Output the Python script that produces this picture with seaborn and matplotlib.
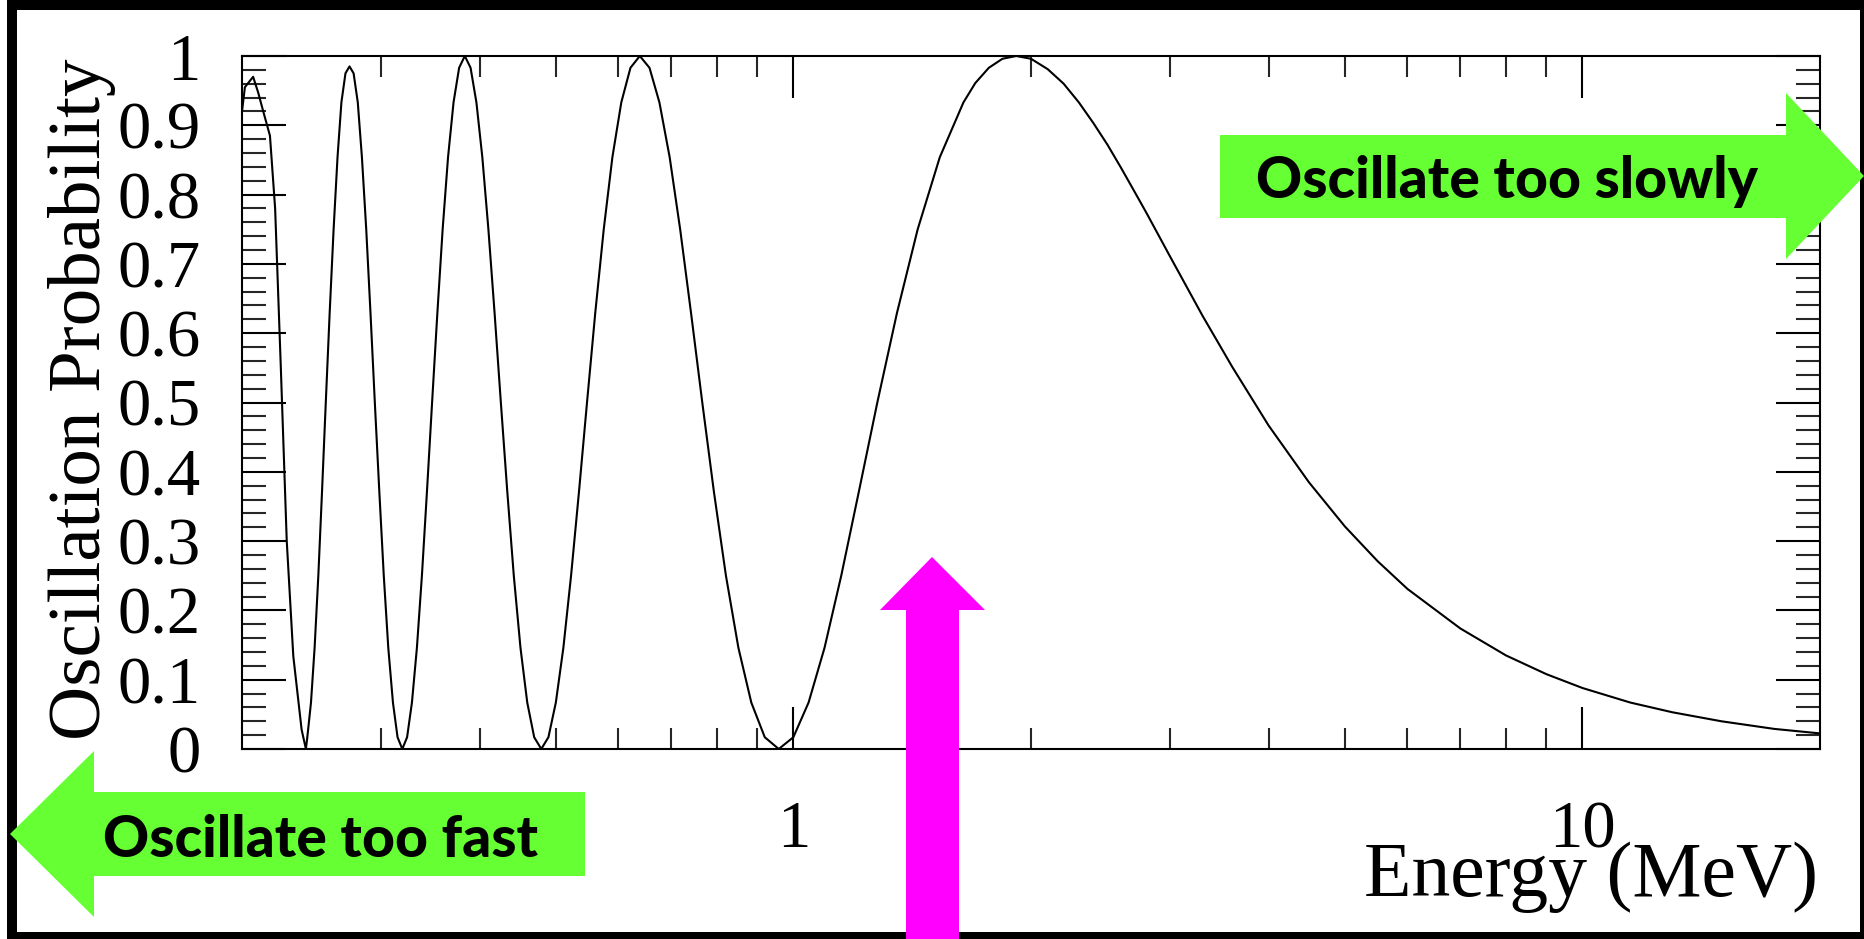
import matplotlib
matplotlib.use("Agg")
import matplotlib.pyplot as plt
from matplotlib.patches import Polygon, Rectangle
from matplotlib.ticker import FixedLocator, FixedFormatter, NullFormatter, MultipleLocator
import pandas as pd
import seaborn as sns

# ---- curve: neutrino energy (MeV) and oscillation probability ----
energy = [
    0.2000, 0.2017, 0.2066, 0.2097, 0.2128, 0.2170, 0.2203, 0.2240, 0.2279, 0.2323, 0.2380, 0.2410,
    0.2420, 0.2446, 0.2472, 0.2499, 0.2526, 0.2554, 0.2583, 0.2613, 0.2643, 0.2673, 0.2705, 0.2737,
    0.2770, 0.2804, 0.2838, 0.2874, 0.2910, 0.2947, 0.2986, 0.3025, 0.3065, 0.3107, 0.3149, 0.3193,
    0.3238, 0.3284, 0.3332, 0.3381, 0.3431, 0.3483, 0.3537, 0.3592, 0.3649, 0.3708, 0.3769, 0.3832,
    0.3897, 0.3964, 0.4033, 0.4105, 0.4180, 0.4257, 0.4338, 0.4421, 0.4508, 0.4598, 0.4692, 0.4790,
    0.4891, 0.4998, 0.5109, 0.5225, 0.5347, 0.5474, 0.5607, 0.5748, 0.5895, 0.6050, 0.6214, 0.6386,
    0.6569, 0.6762, 0.6967, 0.7184, 0.7416, 0.7663, 0.7928, 0.8211, 0.8515, 0.8842, 0.9196, 0.9579,
    0.9996, 1.0450, 1.0948, 1.1495, 1.2100, 1.2772, 1.3524, 1.4369, 1.5327, 1.6421, 1.7000, 1.7685,
    1.8400, 1.9158, 2.0, 2.1, 2.2, 2.3, 2.4, 2.5, 2.6, 2.7, 2.8, 3.0, 3.3, 3.6, 4.0, 4.5, 5.0,
    5.5, 6.0, 7.0, 8.0, 9.0, 10.0, 11.5, 13.0, 15.0, 17.5, 20.0,
]
probability = [
    0.920, 0.955, 0.970, 0.947, 0.920, 0.885, 0.780, 0.550, 0.300, 0.134, 0.028, 0.000,
    0.017, 0.067, 0.146, 0.250, 0.371, 0.500, 0.629, 0.750, 0.854, 0.933, 0.975, 0.985,
    0.975, 0.933, 0.854, 0.750, 0.629, 0.500, 0.371, 0.250, 0.146, 0.067, 0.017, 0.000,
    0.017, 0.067, 0.146, 0.250, 0.371, 0.500, 0.629, 0.750, 0.854, 0.933, 0.983, 1.000,
    0.983, 0.933, 0.854, 0.750, 0.629, 0.500, 0.371, 0.250, 0.146, 0.067, 0.017, 0.000,
    0.017, 0.067, 0.146, 0.250, 0.371, 0.500, 0.629, 0.750, 0.854, 0.933, 0.983, 1.000,
    0.983, 0.933, 0.854, 0.750, 0.629, 0.500, 0.371, 0.250, 0.146, 0.067, 0.017, 0.000,
    0.017, 0.067, 0.146, 0.250, 0.371, 0.500, 0.629, 0.750, 0.854, 0.933, 0.961, 0.983,
    0.996, 1.000, 0.996, 0.981, 0.960, 0.933, 0.903, 0.872, 0.839, 0.806, 0.774, 0.711,
    0.625, 0.551, 0.467, 0.385, 0.321, 0.271, 0.231, 0.174, 0.135, 0.108, 0.088, 0.067,
    0.053, 0.040, 0.029, 0.0225,
]

# ---- axis ticks and labels ----
x_major = [1, 10]
x_major_labels = ["1", "10"]
x_minor = [0.3, 0.4, 0.5, 0.6, 0.7, 0.8, 0.9, 2, 3, 4, 5, 6, 7, 8, 9]
y_major = [0.0, 0.1, 0.2, 0.3, 0.4, 0.5, 0.6, 0.7, 0.8, 0.9, 1.0]
y_major_labels = ["0", "0.1", "0.2", "0.3", "0.4", "0.5", "0.6", "0.7", "0.8", "0.9", "1"]

x_title = "Energy (MeV)"
y_title = "Oscillation Probability"
slow_text = "Oscillate too slowly"
fast_text = "Oscillate too fast"

sns.set_theme(style="white")
serif = ["Liberation Serif", "DejaVu Serif"]
plt.rcParams["font.family"] = serif

W, H = 1864, 939
fig = plt.figure(figsize=(W / 100, H / 100), dpi=100)
fig.patch.set_facecolor("white")


def fx(px):
    return px / W


def fy(py):
    return 1 - py / H


def poly(points, color, z):
    pts = [(fx(x), fy(y)) for x, y in points]
    fig.patches.append(Polygon(pts, closed=True, transform=fig.transFigure,
                               facecolor=color, edgecolor="none", zorder=z))


def rect(x0, y0, x1, y1, color, z):
    fig.patches.append(Rectangle((fx(x0), fy(y1)), fx(x1) - fx(x0), fy(y0) - fy(y1),
                                 transform=fig.transFigure, facecolor=color,
                                 edgecolor="none", zorder=z))


ax_left, ax_right, ax_top, ax_bottom = 242, 1820, 56, 749
ax = fig.add_axes([fx(ax_left), fy(ax_bottom), fx(ax_right) - fx(ax_left),
                   (ax_bottom - ax_top) / H])
ax.set_facecolor("white")

df = pd.DataFrame({"energy": energy, "probability": probability})
sns.lineplot(data=df, x="energy", y="probability", ax=ax, color="black",
             linewidth=1.5, estimator=None, sort=True)

ax.set_xscale("log")
ax.set_xlim(0.2, 20)
ax.set_ylim(0, 1)
ax.set_xlabel("")
ax.set_ylabel("")

ax.xaxis.set_major_locator(FixedLocator(x_major))
ax.xaxis.set_major_formatter(FixedFormatter(x_major_labels))
ax.xaxis.set_minor_locator(FixedLocator(x_minor))
ax.xaxis.set_minor_formatter(NullFormatter())
ax.yaxis.set_major_locator(FixedLocator(y_major))
ax.yaxis.set_major_formatter(FixedFormatter(y_major_labels))
ax.yaxis.set_minor_locator(MultipleLocator(0.02))
ax.yaxis.set_minor_formatter(NullFormatter())

ax.tick_params(axis="x", which="major", direction="in", length=30, width=1.5,
               top=True, bottom=True, pad=37, labelsize=48, colors="black")
ax.tick_params(axis="x", which="minor", direction="in", length=15, width=1.5,
               top=True, bottom=True)
ax.tick_params(axis="y", which="major", direction="in", length=32, width=1.5,
               left=True, right=True, pad=30, labelsize=48, colors="black")
ax.tick_params(axis="y", which="minor", direction="in", length=17, width=1.5,
               left=True, right=True)
for lab in ax.get_xticklabels() + ax.get_yticklabels():
    lab.set_family(serif)
for sp in ax.spines.values():
    sp.set_visible(True)
    sp.set_color("black")
    sp.set_linewidth(1.5)

# axis titles
fig.text(fx(1818), fy(896), x_title, ha="right", va="baseline", fontsize=56,
         family=serif, color="black")
fig.text(fx(100), fy(399), y_title, rotation=90, rotation_mode="anchor",
         ha="center", va="baseline", fontsize=54, family=serif, color="black")

# outer frame
rect(7, 0, 17, H, "black", 2)
rect(7, 0, W, 10, "black", 2)
rect(1860, 0, W, H, "black", 2)
rect(7, 932, W, H, "black", 2)

green = "#66ff33"
magenta = "#ff00ff"

# arrow pointing right (high energies)
poly([(1220, 135), (1786, 135), (1786, 93), (1864, 176), (1786, 259),
      (1786, 218), (1220, 218)], green, 3)
# arrow pointing left (low energies)
poly([(585, 792), (94, 792), (94, 751), (10, 834), (94, 917),
      (94, 876), (585, 876)], green, 3)
# upward arrow under the first oscillation maximum
poly([(906, H), (906, 610), (880, 610), (932, 557), (985, 610),
      (959, 610), (959, H)], magenta, 3)

sans_bold = ["Lato", "DejaVu Sans"]
fig.text(fx(1256), fy(198), slow_text, ha="left", va="baseline", fontsize=41,
         fontweight=900, family=sans_bold, color="black", zorder=5)
fig.text(fx(103), fy(857), fast_text, ha="left", va="baseline", fontsize=41,
         fontweight=900, family=sans_bold, color="black", zorder=5)

fig.savefig("out.png", dpi=100, facecolor="white")
